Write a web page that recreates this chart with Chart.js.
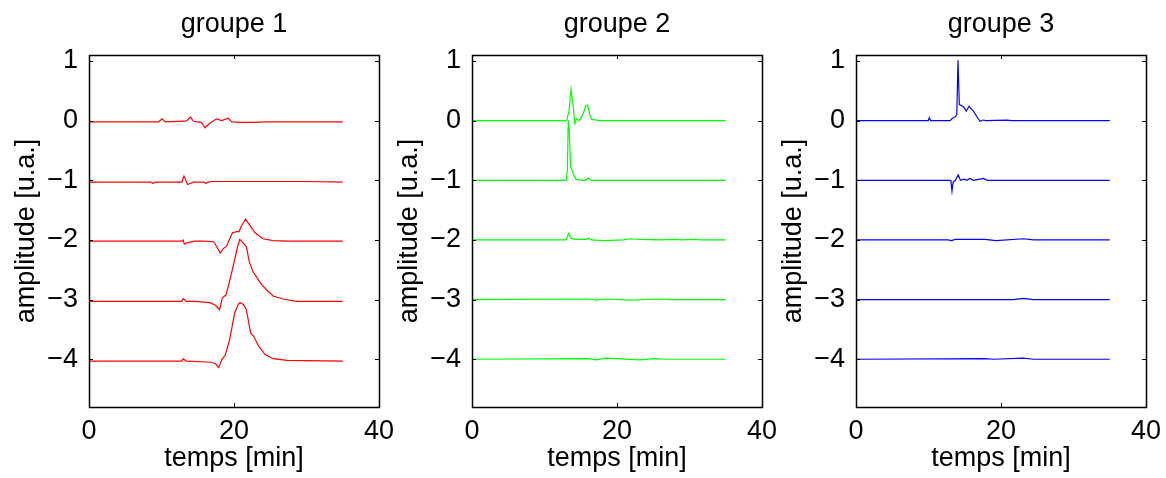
<!DOCTYPE html>
<html>
<head>
<meta charset="utf-8">
<script src="https://cdn.jsdelivr.net/npm/chart.js@4.4.1/dist/chart.umd.min.js"></script>
<style>
  body { margin: 0; background: #fff; overflow: hidden; }
  .panel { position: absolute; top: 0; width: 399px; height: 478px; }
</style>
</head>
<body>
<div class="panel" style="left:0px"><canvas id="chart-g1"></canvas></div>
<div class="panel" style="left:383px"><canvas id="chart-g2"></canvas></div>
<div class="panel" style="left:767px"><canvas id="chart-g3"></canvas></div>
<script>
/* ---- data ---- */
const groupTitles = ['groupe 1', 'groupe 2', 'groupe 3'];
const groupColors = ['#ff0000', '#00ff00', '#0000ff'];
const xTicks = [0, 20, 40];
const xTickLabels = ['0', '20', '40'];
const yTicks = [1, 0, -1, -2, -3, -4];
const yTickLabels = ['1', '0', '\u22121', '\u22122', '\u22123', '\u22124'];

// groupe 1
const g1t0X = [0, 9.6, 10.1, 10.5, 13.2, 13.5, 14.0, 14.4, 15.5, 16.0, 16.7, 17.6, 18.3, 19.2, 19.7, 20.8, 22.6, 24.5, 35];
const g1t0Y = [-0.02, -0.02, 0.03, -0.02, -0.01, 0.0, 0.06, -0.01, -0.03, -0.12, -0.04, 0.03, 0.0, 0.04, -0.02, -0.03, -0.03, -0.02, -0.02];
const g1t1X = [0, 8.5, 8.8, 9.2, 12.8, 13.1, 13.6, 14.4, 15.8, 16.1, 16.5, 16.9, 25, 30, 35];
const g1t1Y = [-1.03, -1.03, -1.05, -1.03, -1.03, -0.93, -1.07, -1.03, -1.03, -1.05, -1.03, -1.02, -1.02, -1.02, -1.03];
const g1t2X = [0, 12.8, 13.0, 13.15, 13.5, 14.6, 15.8, 17.2, 17.7, 18.1, 18.5, 19.0, 19.4, 19.8, 20.4, 20.7, 21.0, 21.6, 22.1, 22.9, 24.0, 25.4, 27.3, 35];
const g1t2Y = [-2.02, -2.02, -2.0, -2.07, -2.05, -2.02, -2.02, -2.03, -2.13, -2.22, -2.15, -2.10, -1.98, -1.88, -1.86, -1.86, -1.77, -1.65, -1.74, -1.88, -1.98, -2.01, -2.02, -2.02];
const g1t3X = [0, 12.8, 13.0, 13.4, 14.6, 16.7, 17.5, 18.0, 18.4, 18.9, 19.4, 20.0, 20.5, 20.8, 21.2, 21.7, 22.1, 22.6, 23.1, 23.8, 24.7, 25.4, 26.8, 28.6, 35];
const g1t3Y = [-3.03, -3.03, -2.98, -3.03, -3.03, -3.05, -3.10, -3.17, -2.97, -2.92, -2.69, -2.38, -2.11, -1.99, -2.04, -2.11, -2.36, -2.53, -2.62, -2.75, -2.86, -2.94, -2.99, -3.03, -3.03];
const g1t4X = [0, 12.8, 13.0, 13.4, 16.9, 17.5, 17.9, 18.3, 18.8, 19.4, 20.1, 20.6, 20.8, 21.3, 21.7, 22.3, 22.7, 23.4, 24.3, 25.4, 27.3, 35];
const g1t4Y = [-4.03, -4.03, -3.99, -4.03, -4.05, -4.08, -4.14, -4.01, -3.93, -3.67, -3.22, -3.08, -3.05, -3.08, -3.17, -3.56, -3.61, -3.78, -3.92, -3.99, -4.02, -4.03];

// groupe 2
const g2t0X = [0, 13.06, 13.4, 13.66, 13.9, 14.2, 14.4, 14.8, 15.27, 15.7, 15.96, 16.3, 16.5, 17.7, 35];
const g2t0Y = [0, 0, 0.18, 0.53, 0.30, -0.05, 0.03, 0.0, 0.10, 0.25, 0.26, 0.07, 0.02, 0.0, 0.0];
const g2t1X = [0, 13.0, 13.15, 13.28, 13.4, 13.6, 14.1, 14.3, 15.35, 15.6, 16.1, 16.4, 17.2, 35];
const g2t1Y = [-1.0, -1.0, -0.82, 0.0, -0.15, -0.77, -0.93, -0.98, -1.0, -1.0, -0.96, -1.0, -1.0, -1.0];
const g2t2X = [0, 13.0, 13.3, 13.66, 14.2, 15.8, 16.1, 16.5, 18.1, 20.9, 21.8, 23.2, 25.9, 28.2, 28.9, 30.8, 31.4, 35];
const g2t2Y = [-2.0, -2.0, -1.89, -1.97, -1.99, -1.99, -1.97, -2.0, -2.01, -2.0, -1.98, -1.99, -2.0, -1.99, -2.0, -1.99, -2.0, -2.0];
const g2t3X = [0, 16.0, 17.2, 18.5, 21.8, 25.5, 27.8, 35];
const g2t3Y = [-3.0, -2.99, -3.01, -2.99, -3.01, -2.99, -3.0, -3.0];
const g2t4X = [0, 16.0, 17.2, 18.5, 19.9, 23.2, 25.0, 26.9, 35];
const g2t4Y = [-4.0, -3.99, -4.01, -3.98, -3.99, -4.01, -3.99, -4.0, -4.0];

// groupe 3
const g3t0X = [0, 9.97, 10.1, 10.3, 12.97, 13.3, 13.66, 13.9, 14.07, 14.25, 14.6, 14.9, 15.2, 15.6, 15.8, 16.2, 16.7, 17.1, 17.56, 17.9, 20.8, 21.5, 35];
const g3t0Y = [0, 0, 0.05, 0, 0, 0.04, 0.06, 0.10, 1.01, 0.27, 0.25, 0.22, 0.16, 0.24, 0.21, 0.16, 0.06, -0.01, 0.01, 0.0, 0.01, 0.0, 0.0];
const g3t1X = [0, 12.97, 13.1, 13.24, 13.4, 13.7, 14.1, 14.4, 14.9, 15.3, 15.7, 16.2, 17.56, 18.1, 35];
const g3t1Y = [-1.0, -1.0, -1.02, -1.18, -1.03, -1.0, -0.91, -1.0, -0.98, -1.0, -0.97, -1.0, -0.97, -1.0, -1.0];
const g3t2X = [0, 12.7, 13.2, 13.66, 17.8, 19.3, 23.1, 24.5, 35];
const g3t2Y = [-2.0, -2.0, -2.01, -1.99, -1.99, -2.01, -1.98, -2.0, -2.0];
const g3t3X = [0, 21.7, 23.1, 24.5, 35];
const g3t3Y = [-3.0, -3.0, -2.98, -3.0, -3.0];
const g3t4X = [0, 17.8, 18.9, 23.1, 24.5, 35];
const g3t4Y = [-4.0, -3.99, -4.0, -3.98, -4.0, -4.0];

const groups = [
  [[g1t0X, g1t0Y], [g1t1X, g1t1Y], [g1t2X, g1t2Y], [g1t3X, g1t3Y], [g1t4X, g1t4Y]],
  [[g2t0X, g2t0Y], [g2t1X, g2t1Y], [g2t2X, g2t2Y], [g2t3X, g2t3Y], [g2t4X, g2t4Y]],
  [[g3t0X, g3t0Y], [g3t1X, g3t1Y], [g3t2X, g3t2Y], [g3t3X, g3t3Y], [g3t4X, g3t4Y]]
];

/* ---- look ---- */
const FONT_SIZE = 27;
Chart.defaults.font.family = '"Liberation Sans", Arial, sans-serif';
Chart.defaults.font.size = FONT_SIZE;
Chart.defaults.color = '#000';
const half = FONT_SIZE * 1.2 / 2;

// box around the axes + inward ticks on all four sides
const frameTicks = {
  id: 'frameTicks',
  afterDatasetsDraw(chart) {
    const { ctx, chartArea: a, scales } = chart;
    const len = 4;
    ctx.save();
    ctx.strokeStyle = '#000';
    ctx.lineWidth = 1;
    ctx.beginPath();
    scales.y.ticks.forEach(t => {
      const py = Math.round(scales.y.getPixelForValue(t.value)) + 0.5;
      ctx.moveTo(a.left, py); ctx.lineTo(a.left + len, py);
      ctx.moveTo(a.right, py); ctx.lineTo(a.right - len, py);
    });
    scales.x.ticks.forEach(t => {
      const px = Math.round(scales.x.getPixelForValue(t.value)) + 0.5;
      ctx.moveTo(px, a.bottom); ctx.lineTo(px, a.bottom - len);
      ctx.moveTo(px, a.top); ctx.lineTo(px, a.top + len);
    });
    ctx.stroke();
    ctx.lineWidth = 1.5;
    ctx.strokeRect(Math.round(a.left) + 0.5, Math.round(a.top) + 0.5, Math.round(a.width), Math.round(a.height));
    ctx.restore();
  }
};

function makePanel(id, gi) {
  const ctx = document.getElementById(id);
  const datasets = groups[gi].map(([tx, ty]) => ({
    data: tx.map((x, i) => ({ x: x, y: ty[i] })),
    borderColor: groupColors[gi],
    borderWidth: 1.2,
    pointRadius: 0,
    tension: 0,
    fill: false
  }));

  return new Chart(ctx, {
    type: 'line',
    data: { datasets },
    plugins: [frameTicks],
    options: {
      responsive: true,
      maintainAspectRatio: false,
      animation: false,
      layout: { padding: { left: 0, right: 20, top: 0, bottom: 0 } },
      plugins: {
        legend: { display: false },
        tooltip: { enabled: false },
        title: {
          display: true,
          text: groupTitles[gi],
          fullSize: false,
          font: { size: FONT_SIZE, weight: 'normal' },
          padding: { top: 24.3 - half, bottom: 55 - (24.3 - half) - 2 * half }
        }
      },
      scales: {
        x: {
          type: 'linear',
          min: 0,
          max: 40,
          afterBuildTicks: (s) => { s.ticks = xTicks.map(v => ({ value: v })); },
          afterFit: (s) => { s.height = 71; s.paddingLeft = 0; s.paddingRight = 0; },
          grid: { display: false, drawTicks: false },
          border: { display: false },
          ticks: {
            padding: 8,
            autoSkip: false,
            maxRotation: 0,
            callback: (v) => xTickLabels[xTicks.indexOf(v)]
          },
          title: { display: true, text: 'temps [min]', padding: { top: 0, bottom: 19 - half } }
        },
        y: {
          min: -4.8,
          max: 1.1,
          afterBuildTicks: (s) => { s.ticks = yTicks.map(v => ({ value: v })); },
          afterFit: (s) => { s.width = 89; s.paddingTop = 0; s.paddingBottom = 0; },
          grid: { display: false, drawTicks: false },
          border: { display: false },
          ticks: {
            padding: 11,
            autoSkip: false,
            callback: (v) => yTickLabels[yTicks.indexOf(v)]
          },
          title: { display: true, text: 'amplitude [u.a.]', padding: { top: 27 - half, bottom: 0 } }
        }
      }
    }
  });
}

makePanel('chart-g1', 0);
makePanel('chart-g2', 1);
makePanel('chart-g3', 2);
</script>
</body>
</html>
